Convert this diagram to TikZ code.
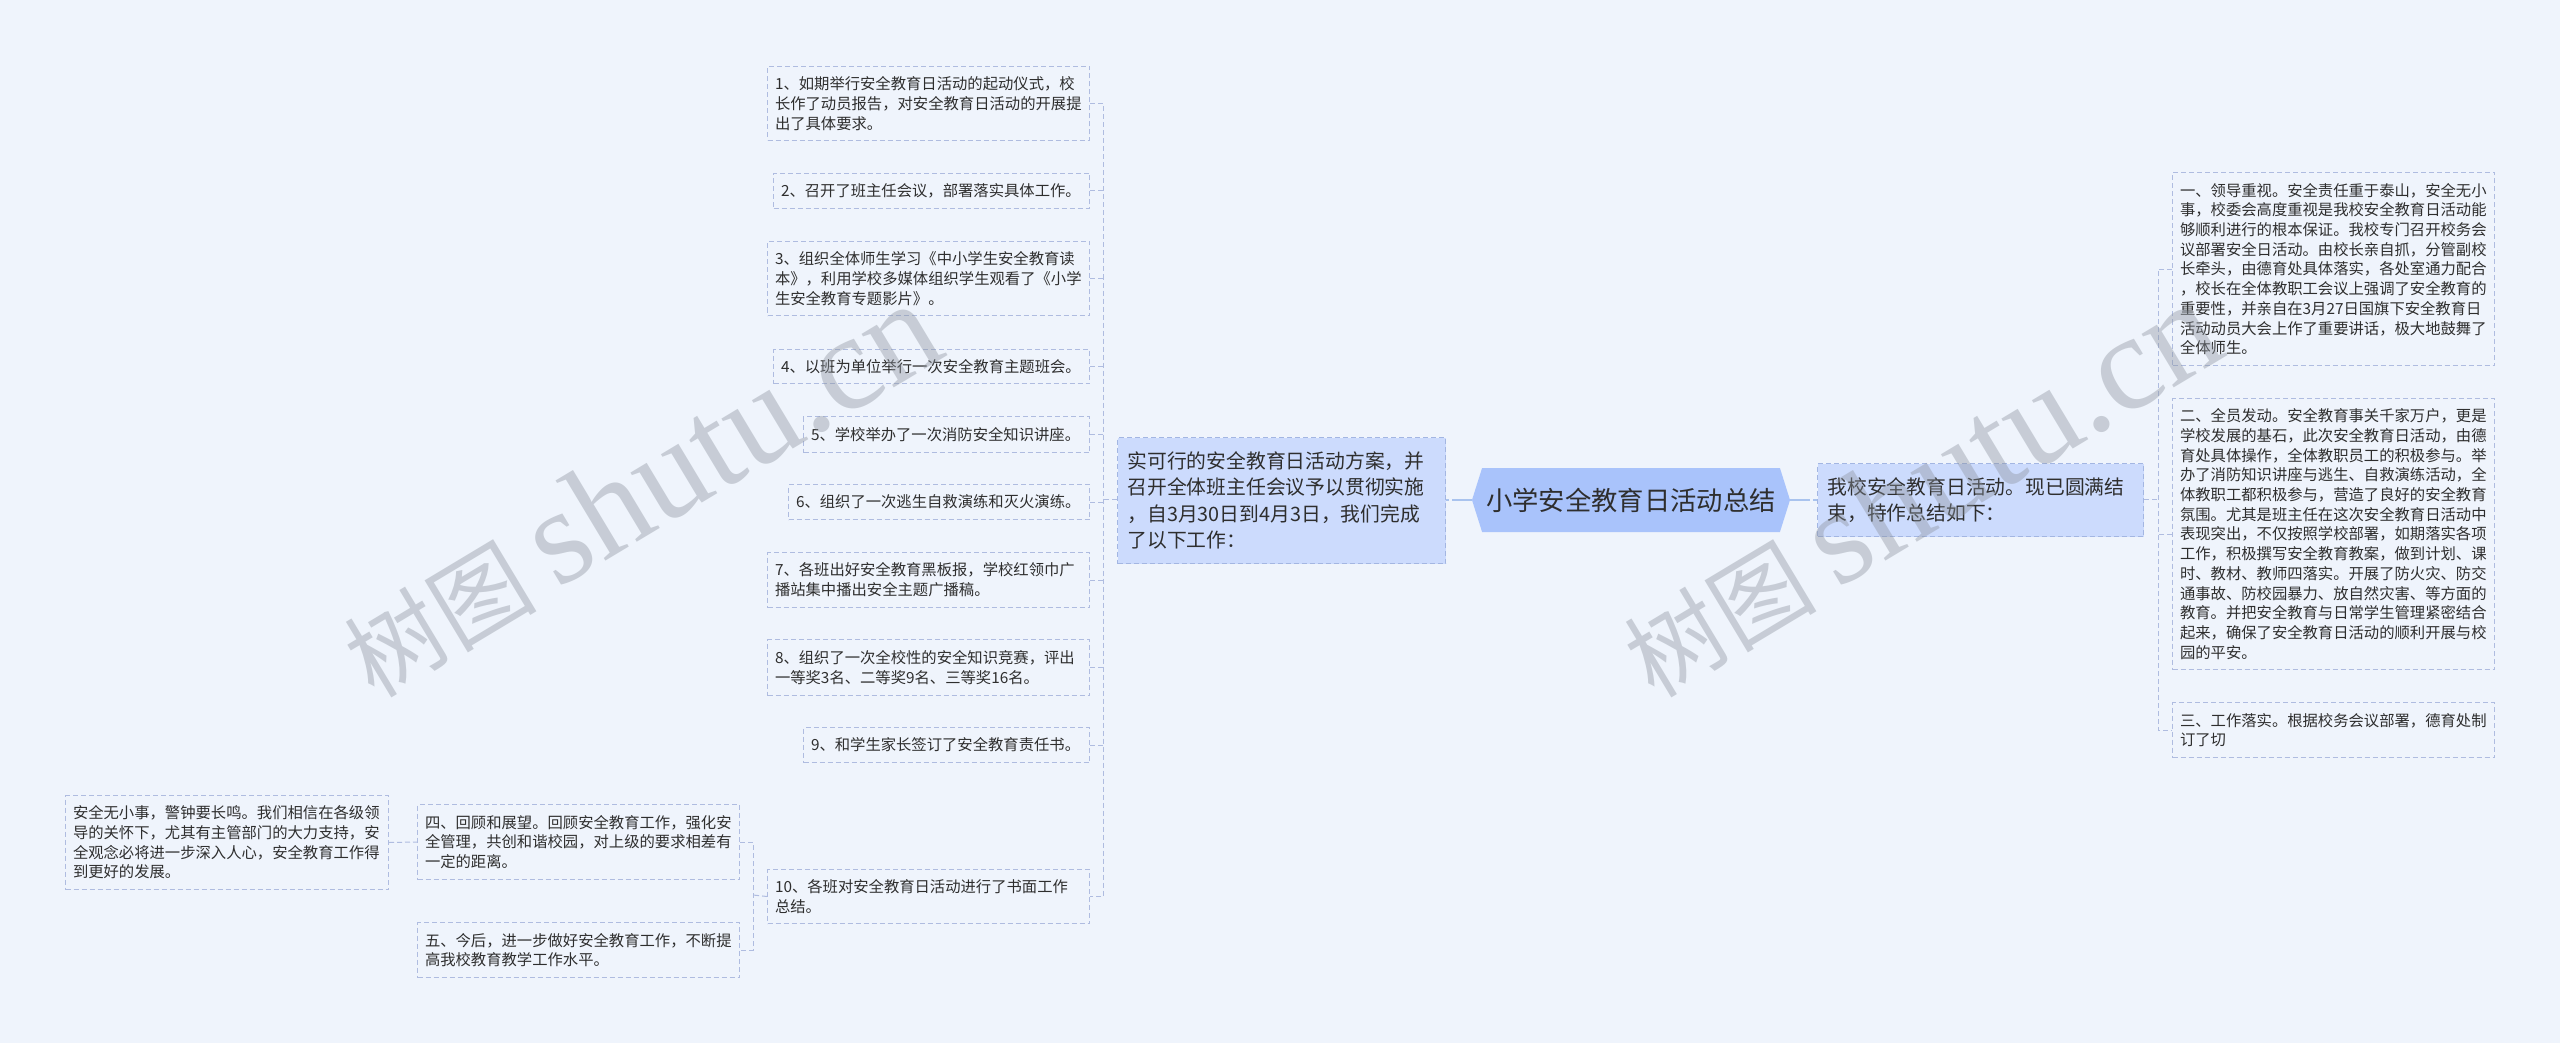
\documentclass[tikz,border=0pt]{standalone}
\usepackage{fontspec}
\usepackage{tikz}
\usetikzlibrary{shapes.symbols}
\setmainfont{Noto Sans CJK SC}
\newfontfamily\wmserif{Liberation Serif}
\definecolor{pagebg}{HTML}{EFF4FC}
\definecolor{inkcol}{HTML}{2E2E2E}
\definecolor{dashcol}{HTML}{AFBCE0}
\definecolor{midfill}{HTML}{CCDBFD}
\definecolor{middash}{HTML}{A3B6E2}
\definecolor{topfill}{HTML}{A9C3FB}
\definecolor{toplink}{HTML}{A9C3EE}
\definecolor{wmcol}{HTML}{8B929D}
\tikzset{
  leaf/.style 2 args={draw=dashcol,line width=1pt,dash pattern=on 5pt off 3pt,inner sep=0pt,
    anchor=north west,align=left,text=inkcol,minimum width=#1pt,minimum height=#2pt,
    text width=#1pt-15pt,font=\fontsize{15.33}{19.7}\selectfont},
  mid/.style 2 args={leaf={#1}{#2},draw=middash,fill=midfill,text width=#1pt-20pt,
    font=\fontsize{19.8}{26.5}\selectfont},
  link/.style={draw=dashcol,line width=1pt,dash pattern=on 5pt off 3pt},
  toplk/.style={draw=toplink,line width=2pt,dash pattern=on 20pt off 3pt on 4pt off 10pt},
  watermark/.style={rotate=31,text=wmcol,text opacity=0.4,inner sep=0pt,
    font=\fontsize{96}{120}\selectfont}
}
\newcommand{\wmlabel}{树图 {\fontsize{136}{120}\selectfont\wmserif shutu.cn}}
\begin{document}
\begin{tikzpicture}[x=1pt,y=-1pt]
    \useasboundingbox (0,0) rectangle (2560,1043);
    \fill [pagebg] (0,0) rectangle (2560,1043);
    % centre
    \node [signal,signal to=east and west,signal pointer angle=145,fill=topfill,text=inkcol,inner sep=0pt,
        minimum width=318pt,minimum height=64pt,font=\fontsize{26.3}{30}\selectfont] (title) at (1631,500) {小学安全教育日活动总结};
    \node [mid={328}{126}] (plan) at (1117,437) {实可行的安全教育日活动方案，并\\召开全体班主任会议予以贯彻实施\\，自3月30日到4月3日，我们完成\\了以下工作：};
    \node [mid={326}{73}] (intro) at (1817,463) {我校安全教育日活动。现已圆满结\\束，特作总结如下：};
    % left column
    \node [leaf={322}{74}] (item1) at (767,66) {1、如期举行安全教育日活动的起动仪式，校\\长作了动员报告，对安全教育日活动的开展提\\出了具体要求。};
    \node [leaf={316}{35}] (item2) at (773,173) {2、召开了班主任会议，部署落实具体工作。};
    \node [leaf={322}{74}] (item3) at (767,241) {3、组织全体师生学习《中小学生安全教育读\\本》，利用学校多媒体组织学生观看了《小学\\生安全教育专题影片》。};
    \node [leaf={316}{34}] (item4) at (773,349) {4、以班为单位举行一次安全教育主题班会。};
    \node [leaf={286}{36}] (item5) at (803,416) {5、学校举办了一次消防安全知识讲座。};
    \node [leaf={301}{35}] (item6) at (788,484) {6、组织了一次逃生自救演练和灭火演练。};
    \node [leaf={322}{55}] (item7) at (767,552) {7、各班出好安全教育黑板报，学校红领巾广\\播站集中播出安全主题广播稿。};
    \node [leaf={322}{56}] (item8) at (767,639) {8、组织了一次全校性的安全知识竞赛，评出\\一等奖3名、二等奖9名、三等奖16名。};
    \node [leaf={286}{35}] (item9) at (803,727) {9、和学生家长签订了安全教育责任书。};
    \node [leaf={322}{54}] (item10) at (767,869) {10、各班对安全教育日活动进行了书面工作\\总结。};
    % bottom left
    \node [leaf={322}{75}] (four) at (417,804) {四、回顾和展望。回顾安全教育工作，强化安\\全管理，共创和谐校园，对上级的要求相差有\\一定的距离。};
    \node [leaf={322}{55}] (five) at (417,922) {五、今后，进一步做好安全教育工作，不断提\\高我校教育教学工作水平。};
    \node [leaf={323}{94}] (close) at (65,795) {安全无小事，警钟要长鸣。我们相信在各级领\\导的关怀下，尤其有主管部门的大力支持，安\\全观念必将进一步深入人心，安全教育工作得\\到更好的发展。};
    % right column
    \node [leaf={322}{193}] (one) at (2172,172) {一、领导重视。安全责任重于泰山，安全无小\\事，校委会高度重视是我校安全教育日活动能\\够顺利进行的根本保证。我校专门召开校务会\\议部署安全日活动。由校长亲自抓，分管副校\\长牵头，由德育处具体落实，各处室通力配合\\，校长在全体教职工会议上强调了安全教育的\\重要性，并亲自在3月27日国旗下安全教育日\\活动动员大会上作了重要讲话，极大地鼓舞了\\全体师生。};
    \node [leaf={322}{271}] (two) at (2172,398) {二、全员发动。安全教育事关千家万户，更是\\学校发展的基石，此次安全教育日活动，由德\\育处具体操作，全体教职员工的积极参与。举\\办了消防知识讲座与逃生、自救演练活动，全\\体教职工都积极参与，营造了良好的安全教育\\氛围。尤其是班主任在这次安全教育日活动中\\表现突出，不仅按照学校部署，如期落实各项\\工作，积极撰写安全教育教案，做到计划、课\\时、教材、教师四落实。开展了防火灾、防交\\通事故、防校园暴力、放自然灾害、等方面的\\教育。并把安全教育与日常学生管理紧密结合\\起来，确保了安全教育日活动的顺利开展与校\\园的平安。};
    \node [leaf={322}{55}] (three) at (2172,702) {三、工作落实。根据校务会议部署，德育处制\\订了切};
    % trunks
    \coordinate (ltrunk) at (1103,499);
    \coordinate (rtrunk) at (2158,499);
    \coordinate (btrunk) at (753,895);
    % connectors
    \draw [toplk] (title.west) -- (plan.east |- title.west);
    \draw [toplk] (title.east) -- (intro.west |- title.east);
    \draw [link] (plan.west |- ltrunk) -- (ltrunk);
    \draw [link] (intro.east |- rtrunk) -- (rtrunk);
    \draw [link] (item1.east) -- (item1.east -| ltrunk) -- (item10.east -| ltrunk) -- (item10.east);
    \draw [link] (item2.east) -- (item2.east -| ltrunk);
    \draw [link] (item3.east) -- (item3.east -| ltrunk);
    \draw [link] (item4.east) -- (item4.east -| ltrunk);
    \draw [link] (item5.east) -- (item5.east -| ltrunk);
    \draw [link] (item6.east) -- (item6.east -| ltrunk);
    \draw [link] (item7.east) -- (item7.east -| ltrunk);
    \draw [link] (item8.east) -- (item8.east -| ltrunk);
    \draw [link] (item9.east) -- (item9.east -| ltrunk);
    \draw [link] (one.west) -- (one.west -| rtrunk) -- (three.west -| rtrunk) -- (three.west);
    \draw [link] (two.west) -- (two.west -| rtrunk);
    \draw [link] (item10.west) -- (btrunk);
    \draw [link] (four.east) -- (four.east -| btrunk) -- (five.east -| btrunk) -- (five.east);
    \draw [link] (close.east) -- (four.west);
    % watermarks
    \node [watermark] (wmleft) at (640,490) {\wmlabel};
    \node [watermark] (wmright) at (1920,490) {\wmlabel};
\end{tikzpicture}
\end{document}
